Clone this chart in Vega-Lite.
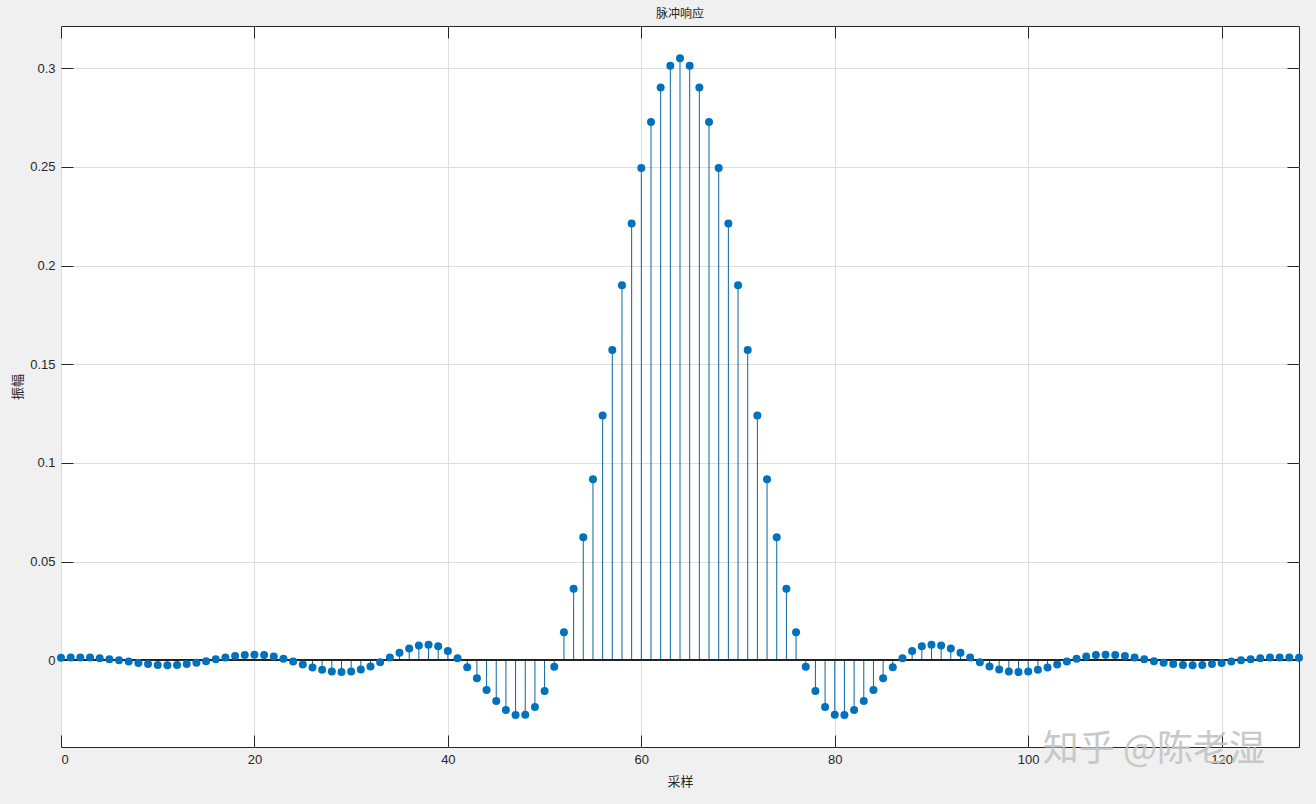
{
  "$schema": "https://vega.github.io/schema/vega-lite/v6.json",
  "width": 1238,
  "height": 721,
  "autosize": {"type": "none"},
  "padding": {"left": 61, "top": 26, "right": 17, "bottom": 57},
  "background": "#f0f0f0",
  "config": {
    "view": {"fill": "white", "stroke": "#262626", "strokeWidth": 1},
    "axis": {"labelFont": "Liberation Sans", "labelFontSize": 13, "labelColor": "#262626", "tickColor": "#262626", "tickWidth": 1, "domainColor": "#262626", "gridColor": "#dedede", "titleFont": "Noto Sans CJK SC", "titleFontSize": 13, "titleFontWeight": "normal", "titleColor": "#262626"}
  },
  "title": {"text": "脉冲响应", "font": "Noto Sans CJK SC", "fontSize": 12, "fontWeight": "normal", "color": "#262626", "offset": 5},
  "data": {"values": [
    {"n": 0, "h": 0.0013}, {"n": 1, "h": 0.0015}, {"n": 2, "h": 0.0015}, {"n": 3, "h": 0.0014}, {"n": 4, "h": 0.0011},
    {"n": 5, "h": 0.0006}, {"n": 6, "h": 0.0000}, {"n": 7, "h": -0.0006}, {"n": 8, "h": -0.0013}, {"n": 9, "h": -0.0019},
    {"n": 10, "h": -0.0023}, {"n": 11, "h": -0.0025}, {"n": 12, "h": -0.0024}, {"n": 13, "h": -0.0019}, {"n": 14, "h": -0.0012},
    {"n": 15, "h": -0.0004}, {"n": 16, "h": 0.0006}, {"n": 17, "h": 0.0015}, {"n": 18, "h": 0.0022}, {"n": 19, "h": 0.0027},
    {"n": 20, "h": 0.0029}, {"n": 21, "h": 0.0027}, {"n": 22, "h": 0.0020}, {"n": 23, "h": 0.0008}, {"n": 24, "h": -0.0006},
    {"n": 25, "h": -0.0021}, {"n": 26, "h": -0.0036}, {"n": 27, "h": -0.0048}, {"n": 28, "h": -0.0057}, {"n": 29, "h": -0.0059},
    {"n": 30, "h": -0.0056}, {"n": 31, "h": -0.0046}, {"n": 32, "h": -0.0031}, {"n": 33, "h": -0.0009}, {"n": 34, "h": 0.0015},
    {"n": 35, "h": 0.0039}, {"n": 36, "h": 0.0060}, {"n": 37, "h": 0.0075}, {"n": 38, "h": 0.0079}, {"n": 39, "h": 0.0071},
    {"n": 40, "h": 0.0048}, {"n": 41, "h": 0.0011}, {"n": 42, "h": -0.0035}, {"n": 43, "h": -0.0091}, {"n": 44, "h": -0.0150},
    {"n": 45, "h": -0.0206}, {"n": 46, "h": -0.0252}, {"n": 47, "h": -0.0277}, {"n": 48, "h": -0.0276}, {"n": 49, "h": -0.0236},
    {"n": 50, "h": -0.0155}, {"n": 51, "h": -0.0032}, {"n": 52, "h": 0.0142}, {"n": 53, "h": 0.0363}, {"n": 54, "h": 0.0624},
    {"n": 55, "h": 0.0918}, {"n": 56, "h": 0.1240}, {"n": 57, "h": 0.1572}, {"n": 58, "h": 0.1900}, {"n": 59, "h": 0.2213},
    {"n": 60, "h": 0.2494}, {"n": 61, "h": 0.2727}, {"n": 62, "h": 0.2902}, {"n": 63, "h": 0.3013}, {"n": 64, "h": 0.3051},
    {"n": 65, "h": 0.3013}, {"n": 66, "h": 0.2902}, {"n": 67, "h": 0.2727}, {"n": 68, "h": 0.2494}, {"n": 69, "h": 0.2213},
    {"n": 70, "h": 0.1900}, {"n": 71, "h": 0.1572}, {"n": 72, "h": 0.1240}, {"n": 73, "h": 0.0918}, {"n": 74, "h": 0.0624},
    {"n": 75, "h": 0.0363}, {"n": 76, "h": 0.0142}, {"n": 77, "h": -0.0032}, {"n": 78, "h": -0.0155}, {"n": 79, "h": -0.0236},
    {"n": 80, "h": -0.0276}, {"n": 81, "h": -0.0277}, {"n": 82, "h": -0.0252}, {"n": 83, "h": -0.0206}, {"n": 84, "h": -0.0150},
    {"n": 85, "h": -0.0091}, {"n": 86, "h": -0.0035}, {"n": 87, "h": 0.0011}, {"n": 88, "h": 0.0048}, {"n": 89, "h": 0.0071},
    {"n": 90, "h": 0.0079}, {"n": 91, "h": 0.0075}, {"n": 92, "h": 0.0060}, {"n": 93, "h": 0.0039}, {"n": 94, "h": 0.0015},
    {"n": 95, "h": -0.0009}, {"n": 96, "h": -0.0031}, {"n": 97, "h": -0.0046}, {"n": 98, "h": -0.0056}, {"n": 99, "h": -0.0059},
    {"n": 100, "h": -0.0057}, {"n": 101, "h": -0.0048}, {"n": 102, "h": -0.0036}, {"n": 103, "h": -0.0021}, {"n": 104, "h": -0.0006},
    {"n": 105, "h": 0.0008}, {"n": 106, "h": 0.0020}, {"n": 107, "h": 0.0027}, {"n": 108, "h": 0.0029}, {"n": 109, "h": 0.0027},
    {"n": 110, "h": 0.0022}, {"n": 111, "h": 0.0015}, {"n": 112, "h": 0.0006}, {"n": 113, "h": -0.0004}, {"n": 114, "h": -0.0012},
    {"n": 115, "h": -0.0019}, {"n": 116, "h": -0.0024}, {"n": 117, "h": -0.0025}, {"n": 118, "h": -0.0023}, {"n": 119, "h": -0.0019},
    {"n": 120, "h": -0.0013}, {"n": 121, "h": -0.0006}, {"n": 122, "h": 0.0000}, {"n": 123, "h": 0.0006}, {"n": 124, "h": 0.0011},
    {"n": 125, "h": 0.0014}, {"n": 126, "h": 0.0015}, {"n": 127, "h": 0.0015}, {"n": 128, "h": 0.0013}
  ]},
  "layer": [
    {
      "mark": {"type": "rule", "color": "#0b66a0", "strokeWidth": 1},
      "encoding": {
        "x": {"field": "n", "type": "quantitative", "scale": {"domain": [0, 128], "nice": false, "zero": false},
              "axis": {"orient": "bottom", "title": "采样", "values": [0, 20, 40, 60, 80, 100, 120], "grid": true, "tickSize": -12, "labelPadding": 18, "titlePadding": 9, "domain": false}},
        "y": {"field": "h", "type": "quantitative", "scale": {"domain": [-0.0439, 0.3214], "nice": false, "zero": false},
              "axis": {"orient": "left", "title": "振幅", "values": [0, 0.05, 0.1, 0.15, 0.2, 0.25, 0.3], "format": "~g", "grid": true, "tickSize": -12, "labelPadding": 18, "titlePadding": 5, "domain": false}},
        "y2": {"datum": 0}
      }
    },
    {
      "mark": {"type": "rule", "color": "#262626", "strokeWidth": 1},
      "encoding": {"y": {"datum": 0, "type": "quantitative", "axis": null}}
    },
    {
      "mark": {"type": "point", "filled": true, "size": 64, "color": "#0072BD", "opacity": 1},
      "encoding": {
        "x": {"field": "n", "type": "quantitative", "axis": {"orient": "top", "title": null, "labels": false, "values": [0, 20, 40, 60, 80, 100, 120], "grid": false, "tickSize": -12, "domain": false}},
        "y": {"field": "h", "type": "quantitative", "axis": {"orient": "right", "title": null, "labels": false, "values": [0, 0.05, 0.1, 0.15, 0.2, 0.25, 0.3], "grid": false, "tickSize": -12, "domain": false}}
      }
    },
    {
      "data": {"values": [{"n": 113, "h": -0.0455, "t": "知乎 @陈老湿"}]},
      "mark": {"type": "text", "font": "Noto Sans CJK SC", "fontSize": 36, "color": "#c4c4c4", "opacity": 0.9, "align": "center", "baseline": "middle", "clip": false},
      "encoding": {
        "x": {"field": "n", "type": "quantitative", "axis": null},
        "y": {"field": "h", "type": "quantitative", "axis": null},
        "text": {"field": "t"}
      }
    }
  ],
  "resolve": {"axis": {"x": "independent", "y": "independent"}}
}
